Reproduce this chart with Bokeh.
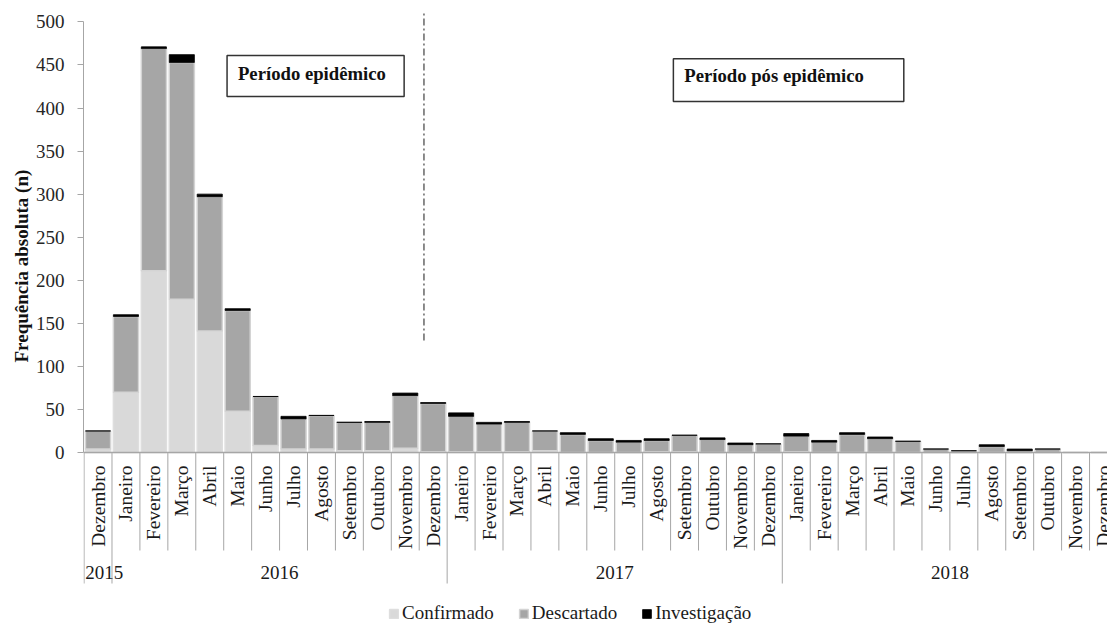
import math
from bokeh.plotting import figure
from bokeh.models import (ColumnDataSource, Range1d, FixedTicker, Span, Legend, LegendItem,
                          Title, LabelSet)
from bokeh.core.properties import value
from bokeh.embed import file_html
from bokeh.resources import INLINE

# ---------------- data ----------------
months = ["Dezembro",
          "Janeiro", "Fevereiro", "Março", "Abril", "Maio", "Junho", "Julho", "Agosto",
          "Setembro", "Outubro", "Novembro", "Dezembro",
          "Janeiro", "Fevereiro", "Março", "Abril", "Maio", "Junho", "Julho", "Agosto",
          "Setembro", "Outubro", "Novembro", "Dezembro",
          "Janeiro", "Fevereiro", "Março", "Abril", "Maio", "Junho", "Julho", "Agosto",
          "Setembro", "Outubro", "Novembro", "Dezembro"]
years = ["2015", "2016", "2017", "2018"]
months_per_year = [1, 12, 12, 12]

confirmado = [4, 70, 211, 178, 141, 48, 8, 4, 4, 2, 2, 5, 1,
              1, 1, 1, 2, 0, 0, 0, 1, 1, 0, 0, 0,
              1, 0, 0, 0, 0, 0, 0, 0, 0, 0, 0, 0]
descartado = [21, 88, 258, 275, 156, 117, 57, 35, 39, 33, 33, 61, 56,
              41, 32, 34, 23, 21, 14, 12, 13, 19, 15, 9, 10,
              18, 12, 21, 16, 13, 4, 2, 7, 2, 4, 0, 0]
investigacao = [0, 2, 2, 9, 3, 2, 0, 3, 0, 0, 1, 3, 1,
                4, 2, 1, 0, 2, 2, 2, 2, 0, 2, 2, 0,
                3, 2, 2, 2, 0, 0, 0, 2, 2, 0, 0, 0]
series_names = ["Confirmado", "Descartado", "Investigação"]
y_ticks = list(range(0, 501, 50))
y_title = "Frequência absoluta (n)"
periods = ["Período epidêmico", "Período pós epidêmico"]

FONT = "Liberation Serif"
n = len(months)
xs = [i + 0.5 for i in range(n)]

# ---------------- figure ----------------
W, H = 1107, 624
LEFT = 83
px_per_cat = 27.93
px_per_unit = 0.8612
zero_px = 452
x0 = -0.02


def yv(py):
    return (zero_px - py) / px_per_unit


p = figure(width=W, height=H,
           x_range=Range1d(x0, x0 + (W - LEFT) / px_per_cat),
           y_range=Range1d(yv(H), yv(0)),
           x_axis_type=None, toolbar_location=None, output_backend="svg",
           min_border_left=LEFT, min_border_right=0, min_border_top=0, min_border_bottom=0)
p.grid.visible = False
p.outline_line_color = None
p.background_fill_color = "white"

yax = p.yaxis[0]
yax.ticker = FixedTicker(ticks=y_ticks)
yax.bounds = (0, 500)
yax.axis_line_color = "#a6a6a6"
yax.major_tick_line_color = "#a6a6a6"
yax.major_tick_out = 6
yax.major_tick_in = 0
yax.minor_tick_out = 0
yax.minor_tick_in = 0
yax.major_label_text_font = FONT
yax.major_label_text_font_size = "19px"
yax.major_label_text_color = "#262626"
yax.major_label_standoff = 13

p.add_layout(Title(text=y_title, align="left", offset=H - 362, standoff=2,
                   text_font=FONT, text_font_size="19px", text_font_style="bold",
                   text_color="#111111"), "left")

# ---------------- bars ----------------
src = ColumnDataSource(dict(x=xs, c=confirmado, d=descartado, i=investigacao))
rs = p.vbar_stack(["c", "d", "i"], x="x", width=0.9, source=src,
                  fill_color=["#d9d9d9", "#a6a6a6", "#000000"],
                  line_color=["#dedede", "#d4d4d4", "#000000"],
                  line_width=[1.5, 1.5, 0.8])

# ---------------- category axis (drawn) ----------------
p.add_layout(Span(location=0, dimension="width", line_color="#a6a6a6", line_width=1.3))

bounds = [0]
for m in months_per_year:
    bounds.append(bounds[-1] + m)
month_seps = [b for b in range(1, n + 1) if b not in bounds]
p.segment(x0=month_seps, y0=[0] * len(month_seps), x1=month_seps, y1=[yv(550)] * len(month_seps),
          line_color="#a6a6a6", line_width=1)
p.segment(x0=bounds, y0=[0] * len(bounds), x1=bounds, y1=[yv(583)] * len(bounds),
          line_color="#a6a6a6", line_width=1)

p.text(x=xs, y=[yv(465)] * n, text=months, angle=math.pi / 2,
       text_align="right", text_baseline="middle",
       text_font=value(FONT), text_font_size="19.5px", text_color="#1a1a1a")

# group centres; the one-month 2015 group is nudged right just enough to stay inside the frame
year_x = [max((bounds[k] + bounds[k + 1]) / 2, 0.72) for k in range(len(years))]
year_src = ColumnDataSource(dict(x=year_x, y=[yv(571.5)] * len(years), text=years))
p.add_layout(LabelSet(x="x", y="y", text="text", source=year_src,
                      text_align="center", text_baseline="middle",
                      text_font=value(FONT), text_font_size="19px", text_color="#1a1a1a"))

# ---------------- period annotations ----------------
split_x = 12.17
p.segment(x0=[split_x], y0=[130], x1=[split_x], y1=[511],
          line_color="#404040", line_width=1.2, line_dash="7 3 2 3")

p.quad(left=[5.12, 21.10], right=[11.46, 29.35], bottom=[413.4, 407.6], top=[461.0, 457.2],
       fill_color="white", line_color="#333333", line_width=1.5)
p.text(x=[5.51, 21.49], y=[440.0, 437.8], text=periods,
       text_align="left", text_baseline="middle",
       text_font=value(FONT), text_font_size="18.7px", text_font_style="bold",
       text_color="#111111")

# ---------------- legend ----------------
legend = Legend(items=[LegendItem(label=series_names[k], renderers=[rs[k]]) for k in range(3)],
                location=(388 - LEFT, 0), orientation="horizontal",
                padding=0, margin=0, spacing=24, label_standoff=3,
                glyph_width=11, glyph_height=11, label_height=11,
                border_line_color=None, background_fill_alpha=0,
                label_text_font=FONT, label_text_font_size="19px", label_text_color="#1a1a1a")
p.add_layout(legend)

open("out.html", "w").write(file_html(p, INLINE))
